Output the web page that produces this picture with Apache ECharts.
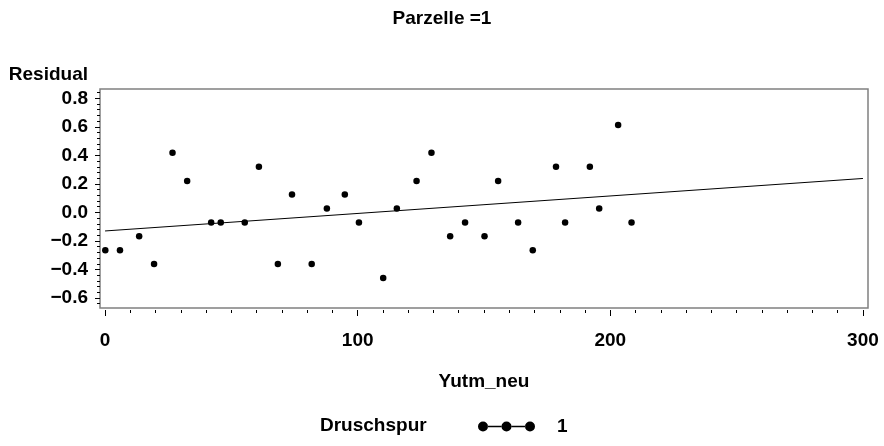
<!DOCTYPE html>
<html>
<head>
<meta charset="utf-8">
<script src="https://cdn.jsdelivr.net/npm/echarts@6/dist/echarts.min.js"></script>
<style>
html,body{margin:0;padding:0;background:#fff;}
#chart{width:884px;height:446px;}
</style>
</head>
<body>
<div id="chart"></div>
<script>
// ---- data ----
var titleText = 'Parzelle =1';
var xName = 'Yutm_neu';
var yName = 'Residual';
var legendTitle = 'Druschspur';
var seriesName = '1';

var xValues = [0.1, 5.9, 13.5, 19.4, 26.7, 32.5, 42.0, 45.8, 55.3, 60.9, 68.4, 74.0, 81.8, 87.8, 94.9, 100.5,
               110.1, 115.5, 123.3, 129.2, 136.6, 142.5, 150.2, 155.6, 163.5, 169.3, 178.5, 182.1, 191.9, 195.6, 203.1, 208.4];
var residuals = [-0.265, -0.265, -0.167, -0.361, 0.418, 0.221, -0.071, -0.071, -0.071, 0.320, -0.361, 0.126, -0.361, 0.028, 0.126, -0.071,
                 -0.460, 0.028, 0.221, 0.418, -0.167, -0.071, -0.167, 0.221, -0.071, -0.265, 0.320, -0.071, 0.320, 0.028, 0.612, -0.071];

var fitX = [0, 300];
var fitY = [-0.130, 0.238];

var xMajorTicks = [0, 100, 200, 300];
var xMinorTicks = [10,20,30,40,50,60,70,80,90,110,120,130,140,150,160,170,180,190,210,220,230,240,250,260,270,280,290];
var yMajorTicks = [-0.6, -0.4, -0.2, 0.0, 0.2, 0.4, 0.6, 0.8];
var yMinorTicks = [-0.64,-0.56,-0.52,-0.48,-0.44,-0.36,-0.32,-0.28,-0.24,-0.16,-0.12,-0.08,-0.04,
                   0.04,0.08,0.12,0.16,0.24,0.28,0.32,0.36,0.44,0.48,0.52,0.56,0.64,0.68,0.72,0.76,0.84];

var xMin = -2, xMax = 302;
var yMin = -0.670, yMax = 0.865;

// ---- build chart ----
var FONT = '"Liberation Sans", Arial, Helvetica, sans-serif';
var FS = 19;
var FW = 'bold';
var scatterData = xValues.map(function (x, i) { return [x, residuals[i]]; });
var lineData = fitX.map(function (x, i) { return [x, fitY[i]]; });

var legendIcon = 'path://M0,5A5,5,0,1,0,10,5A5,5,0,1,0,0,5Z' +
  'M23.5,5A5,5,0,1,0,33.5,5A5,5,0,1,0,23.5,5Z' +
  'M47,5A5,5,0,1,0,57,5A5,5,0,1,0,47,5Z' +
  'M9.8,4.3H23.7V5.7H9.8Z' +
  'M33.3,4.3H47.2V5.7H33.3Z';

var chart = echarts.init(document.getElementById('chart'), null, {renderer: 'canvas'});
var option = {
  backgroundColor: '#ffffff',
  animation: false,
  textStyle: {fontFamily: FONT},
  title: [
    {text: titleText, left: 'center', top: 4,
     textStyle: {fontFamily: FONT, fontSize: FS, fontWeight: FW, color: '#000'}},
    {text: legendTitle, left: 315, top: 411,
     textStyle: {fontFamily: FONT, fontSize: FS, fontWeight: FW, color: '#000'}}
  ],
  legend: {
    data: [{name: seriesName, icon: legendIcon}],
    left: 473, top: 412,
    itemWidth: 57, itemHeight: 10,
    textStyle: {fontFamily: FONT, fontSize: FS, fontWeight: FW, color: '#000', padding: [0, 0, 0, 17]},
    selectedMode: false
  },
  grid: {left: 100, right: 16, top: 89, bottom: 138,
         show: true, borderColor: '#808080', borderWidth: 1.5, containLabel: false},
  xAxis: [
    {type: 'value', min: xMin, max: xMax, position: 'bottom', offset: 2,
     name: xName, nameLocation: 'middle', nameGap: 62,
     nameTextStyle: {fontFamily: FONT, fontSize: FS, fontWeight: FW, color: '#000'},
     axisLine: {show: false, onZero: false},
     axisTick: {show: true, customValues: xMajorTicks, length: 6, lineStyle: {color: '#000', width: 1}},
     axisLabel: {customValues: xMajorTicks, margin: 21, fontFamily: FONT, fontSize: FS, fontWeight: FW, color: '#000'},
     splitLine: {show: false}},
    {type: 'value', min: xMin, max: xMax, position: 'bottom', offset: 2,
     axisLine: {show: false, onZero: false},
     axisTick: {show: true, customValues: xMinorTicks, length: 3, lineStyle: {color: '#000', width: 1}},
     axisLabel: {show: false},
     splitLine: {show: false}}
  ],
  yAxis: [
    {type: 'value', min: yMin, max: yMax, position: 'left',
     name: yName, nameLocation: 'end', nameGap: 5,
     nameTextStyle: {fontFamily: FONT, fontSize: FS, fontWeight: FW, color: '#000', align: 'right', padding: [0, 12, 0, 0]},
     axisLine: {show: false, onZero: false},
     axisTick: {show: true, customValues: yMajorTicks, length: 5, lineStyle: {color: '#000', width: 1}},
     axisLabel: {customValues: yMajorTicks, margin: 12, fontFamily: FONT, fontSize: FS, fontWeight: FW, color: '#000',
       formatter: function (v) { return v.toFixed(1).replace('-', '\u2212'); }},
     splitLine: {show: false}},
    {type: 'value', min: yMin, max: yMax, position: 'left',
     axisLine: {show: false, onZero: false},
     axisTick: {show: true, customValues: yMinorTicks, length: 3, lineStyle: {color: '#000', width: 1}},
     axisLabel: {show: false},
     splitLine: {show: false}}
  ],
  series: [
    {name: seriesName, type: 'scatter', xAxisIndex: 0, yAxisIndex: 0,
     data: scatterData, symbol: 'circle', symbolSize: 6.5,
     itemStyle: {color: '#000', opacity: 1}},
    {name: 'fit', type: 'line', xAxisIndex: 0, yAxisIndex: 0,
     data: lineData, showSymbol: false, symbol: 'none',
     lineStyle: {color: '#000', width: 1}}
  ]
};
chart.setOption(option);
</script>
</body>
</html>
